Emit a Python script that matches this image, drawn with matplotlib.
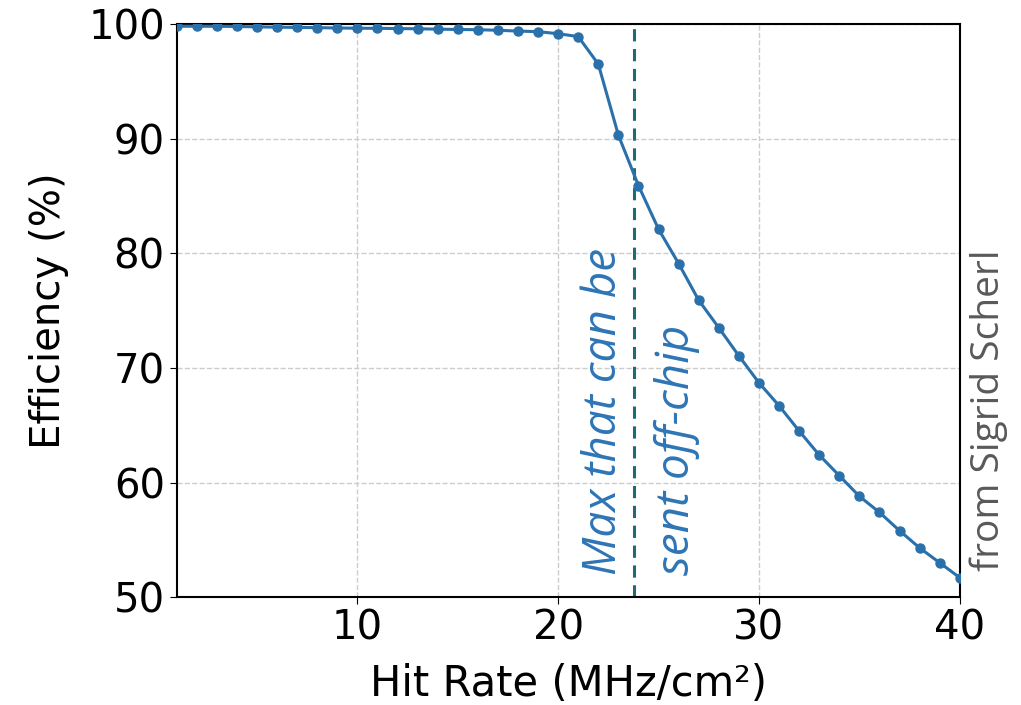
import numpy as np
import matplotlib.pyplot as plt

# hit rate (MHz/cm^2) and efficiency (%)
hit_rate = list(range(1, 41))
efficiency = [99.8, 99.8, 99.8, 99.78, 99.75, 99.72, 99.7, 99.68, 99.65, 99.63,
              99.62, 99.6, 99.58, 99.55, 99.52, 99.5, 99.45, 99.38, 99.33, 99.15,
              98.9, 96.5, 90.3, 85.9, 82.1, 79.1, 75.9, 73.5, 71.05, 68.7,
              66.7, 64.5, 62.4, 60.6, 58.8, 57.4, 55.8, 54.3, 53.0, 51.7]
max_offchip = 23.8

xticks = [10, 20, 30, 40]
yticks = [50, 60, 70, 80, 90, 100]

fig = plt.figure(figsize=(10.21, 7.05), dpi=100)
ax = fig.add_axes([0.173, 0.153, 0.767, 0.813])

ax.plot(hit_rate, efficiency, color='#2a70aa', lw=2.2, marker='o', ms=6.5, zorder=3)
ax.axvline(max_offchip, color='#1f6b72', ls='--', lw=2.2, dashes=(4, 2.5), zorder=2)

ax.text(22.3, 51.9, 'Max that can be', rotation=90, ha='center', va='bottom',
        color='#2e75b6', style='italic', fontsize=33, family='Open Sans')
ax.text(25.9, 51.9, 'sent off-chip', rotation=90, ha='center', va='bottom',
        color='#2e75b6', style='italic', fontsize=33, family='Open Sans')

ax.set_xlim(1, 40)
ax.set_ylim(50, 100)
ax.set_xticks(xticks)
ax.set_yticks(yticks)
ax.tick_params(labelsize=29, length=5)
ax.grid(True, ls='--', color='#cccccc', lw=1)
ax.set_xlabel('Hit Rate (MHz/cm²)', fontsize=30, labelpad=10)
ax.set_ylabel('Efficiency (%)', fontsize=29, labelpad=14)
for s in ax.spines.values():
    s.set_linewidth(1.5)

fig.text(0.968, 0.418, 'from Sigrid Scherl', rotation=90, ha='center', va='center',
         color='#595959', fontsize=28, family='Open Sans')

fig.savefig('out.png', dpi=100)
